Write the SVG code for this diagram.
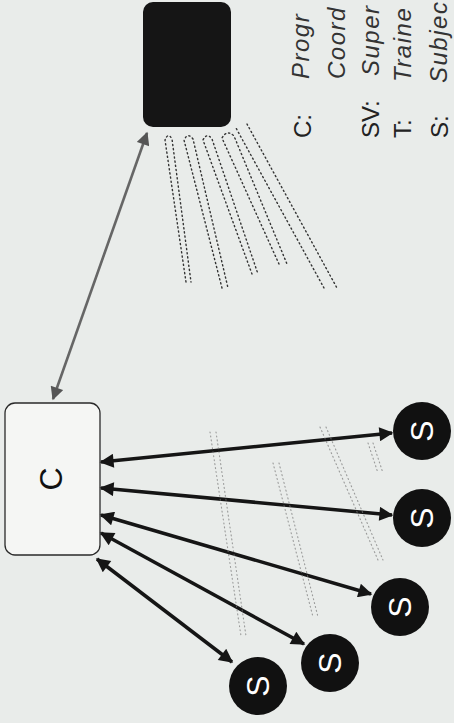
<svg xmlns="http://www.w3.org/2000/svg" width="454" height="723" viewBox="0 0 454 723">
<style>
.bg{fill:#e9ecea}
.lg{font-family:"Liberation Sans",Arial,sans-serif;font-size:24px;fill:#222}
.it{font-style:italic;letter-spacing:1.5px;fill:#333}
.sl{font-family:"Liberation Sans",Arial,sans-serif;font-size:32px;fill:#fff;text-anchor:middle}
.subj{fill:#111}
.arr{stroke:#151515;stroke-width:3.5;fill:none;marker-start:url(#ah);marker-end:url(#ah)}
.dot{stroke:#333;stroke-width:1.4;fill:none;stroke-dasharray:1.2 3;stroke-linecap:round}
.faint{stroke:#777;stroke-width:1.1;fill:none;stroke-dasharray:1 3;stroke-linecap:round;opacity:.7}
</style>
<defs>
<marker id="ah" viewBox="0 0 10 10" refX="9" refY="5" markerWidth="4.6" markerHeight="4" orient="auto-start-reverse" markerUnits="strokeWidth">
<path d="M0,0 L10,5 L0,10 Z" fill="#151515"/>
</marker>
<marker id="ahg" viewBox="0 0 10 10" refX="9" refY="5" markerWidth="6" markerHeight="5" orient="auto-start-reverse" markerUnits="strokeWidth">
<path d="M0,0 L10,5 L0,10 Z" fill="#555"/>
</marker>
</defs>
<rect class="bg" x="0" y="0" width="454" height="723"/>

<g id="legend">
<text class="lg" transform="translate(311,138) rotate(-90)">C:</text>
<text class="lg it" transform="translate(309,79) rotate(-90)">Progr</text>
<text class="lg it" transform="translate(345,79) rotate(-90)">Coord</text>
<text class="lg" transform="translate(379,138) rotate(-90)">SV:</text>
<text class="lg it" transform="translate(379,76) rotate(-90)">Super</text>
<text class="lg" transform="translate(411,138) rotate(-90)">T:</text>
<text class="lg it" transform="translate(411,82) rotate(-90)">Traine</text>
<text class="lg" transform="translate(448,138) rotate(-90)">S:</text>
<text class="lg it" transform="translate(447,83) rotate(-90)">Subjec</text>
</g>

<g id="screen">
<rect x="143" y="2" width="88" height="125" rx="10" fill="#151515"/>
</g>

<g id="C">
<rect x="5" y="403" width="95" height="152" rx="10" fill="#f5f6f4" stroke="#2a2a2a" stroke-width="1.3"/>
<text class="lg" style="font-size:32px;text-anchor:middle;fill:#111" transform="translate(62,479) rotate(-90)">C</text>
</g>

<g id="connectors">
<line x1="147" y1="133" x2="53" y2="399" stroke="#666" stroke-width="2.6" marker-start="url(#ahg)" marker-end="url(#ahg)"/>
<line class="arr" x1="101" y1="462" x2="392" y2="433"/>
<line class="arr" x1="101" y1="488" x2="392" y2="515"/>
<line class="arr" x1="101" y1="515" x2="371" y2="594"/>
<line class="arr" x1="101" y1="533" x2="304" y2="644"/>
<line class="arr" x1="97" y1="559" x2="232" y2="662"/>
<path class="dot" d="M186,282 L165,140 Q168,132 172,139 L191,282"/>
<path class="dot" d="M222,288 L184,140 Q188,132 193,139 L228,288"/>
<path class="dot" d="M252,274 L203,140 Q207,132 212,139 L258,274"/>
<path class="dot" d="M279,264 L222,138 Q227,129 234,136 L287,264"/>
<path class="dot" d="M324,288 L236,128 M247,124 L337,288"/>
<path class="faint" d="M210,432 L241,636 M216,432 L246,636"/>
<path class="faint" d="M273,463 L313,617 M279,463 L318,617"/>
<path class="faint" d="M320,427 L378,560 M326,427 L383,560"/>
<path class="faint" d="M368,443 L378,473 M373,443 L383,473"/>
</g>

<g id="S1"><circle class="subj" cx="422" cy="431" r="29"/><text class="sl" transform="translate(433,431) rotate(-90)">S</text></g>
<g id="S2"><circle class="subj" cx="422" cy="518" r="29"/><text class="sl" transform="translate(433,518) rotate(-90)">S</text></g>
<g id="S3"><circle class="subj" cx="400" cy="607" r="29"/><text class="sl" transform="translate(411,607) rotate(-90)">S</text></g>
<g id="S4"><circle class="subj" cx="330" cy="663" r="29"/><text class="sl" transform="translate(341,663) rotate(-90)">S</text></g>
<g id="S5"><circle class="subj" cx="258" cy="686" r="29"/><text class="sl" transform="translate(269,686) rotate(-90)">S</text></g>
</svg>
